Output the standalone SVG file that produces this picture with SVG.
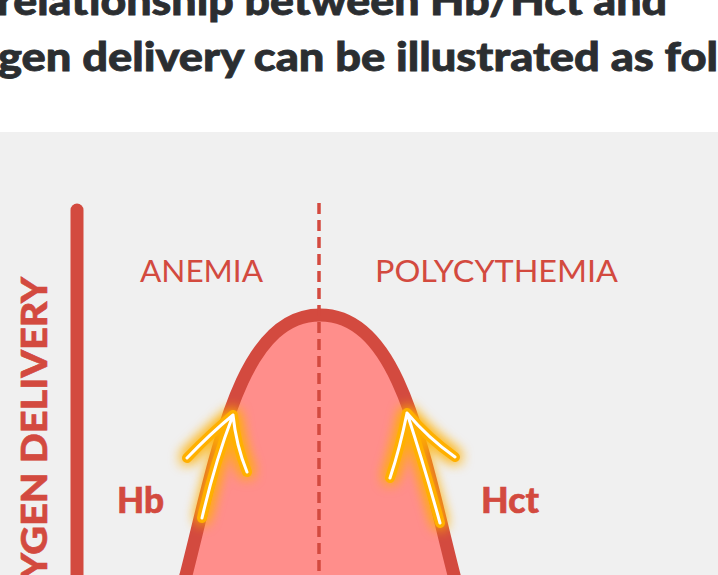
<svg xmlns="http://www.w3.org/2000/svg" width="718" height="575" viewBox="0 0 718 575">
<defs>
<style>
.head{font-family:"Lato","Open Sans",sans-serif;font-weight:900;font-size:40px;fill:#2b2e31;stroke:#2b2e31;stroke-width:0.8}
.zone{font-family:"Lato","Open Sans",sans-serif;font-weight:400;font-size:30px;fill:#d34a3f}
.lbl{font-family:"Lato","Liberation Sans",sans-serif;font-weight:900;font-size:36px;fill:#d34a3f;stroke:#d34a3f;stroke-width:0.6}
.axis{font-family:"Lato","Liberation Sans",sans-serif;font-weight:900;font-size:36px;fill:#d34a3f;stroke:#d34a3f;stroke-width:0.6}
.glow{fill:none;stroke:#ffb000;stroke-width:10;stroke-linecap:round;stroke-linejoin:round}
.core{fill:none;stroke:#ffffff;stroke-width:3;stroke-linecap:round;stroke-linejoin:round}
</style>
<filter id="halo" x="-60%" y="-60%" width="220%" height="220%">
<feGaussianBlur in="SourceGraphic" stdDeviation="7" result="b"/>
<feMerge><feMergeNode in="b"/><feMergeNode in="b"/><feMergeNode in="SourceGraphic"/></feMerge>
</filter>
</defs>
<rect x="0" y="0" width="718" height="575" fill="#ffffff"/>
<g id="heading">
<text class="head" x="-3" y="15" textLength="670" lengthAdjust="spacingAndGlyphs">relationship between Hb/Hct and</text>
<text class="head" x="-2" y="71" textLength="720" lengthAdjust="spacingAndGlyphs">gen delivery can be illustrated as fol</text>
</g>
<rect id="panel" x="0" y="132" width="718" height="443" fill="#f0f0f0"/>
<g id="curve">
<path d="M178,600 L186,575 C218,450 240,315 320,315 C400,315 422,450 454,575 L462,600 Z" fill="#ff8e8b"/>
<path d="M178,603 L186,575 C218,450 240,315 320,315 C400,315 422,450 454,575 L461,603" fill="none" stroke="#d34a3f" stroke-width="13"/>
</g>
<g id="connectors">
<line x1="77" y1="210" x2="77" y2="600" stroke="#d34a3f" stroke-width="13" stroke-linecap="round"/>
<line x1="319" y1="203" x2="319" y2="575" stroke="#d34a3f" stroke-width="3.5" stroke-dasharray="11 6"/>
</g>
<g id="axis-label">
<text class="axis" transform="translate(47,0) rotate(-90)" x="-579" y="0" textLength="302" lengthAdjust="spacingAndGlyphs">YGEN DELIVERY</text>
</g>
<g id="anemia"><text class="zone" x="140" y="282" textLength="123" lengthAdjust="spacingAndGlyphs">ANEMIA</text></g>
<g id="polycythemia"><text class="zone" x="375" y="282" textLength="243" lengthAdjust="spacingAndGlyphs">POLYCYTHEMIA</text></g>
<g id="hb"><text class="lbl" x="117" y="513" textLength="47" lengthAdjust="spacingAndGlyphs">Hb</text></g>
<g id="hct"><text class="lbl" x="481" y="513" textLength="58" lengthAdjust="spacingAndGlyphs">Hct</text></g>
<g id="arrow-hb">
<g filter="url(#halo)">
<path class="glow" d="M202,518 Q215,462 233,415 M187,458 Q211,433 233,415 Q236,445 247,472"/>
</g>
<path class="core" d="M202,518 Q215,462 233,415 M187,458 Q211,433 233,415 Q236,445 247,472"/>
</g>
<g id="arrow-hct">
<g filter="url(#halo)">
<path class="glow" d="M440,523 Q424,465 407,413 M455,457 Q428,438 407,413 Q400,448 390,478"/>
</g>
<path class="core" d="M440,523 Q424,465 407,413 M455,457 Q428,438 407,413 Q400,448 390,478"/>
</g>
</svg>
